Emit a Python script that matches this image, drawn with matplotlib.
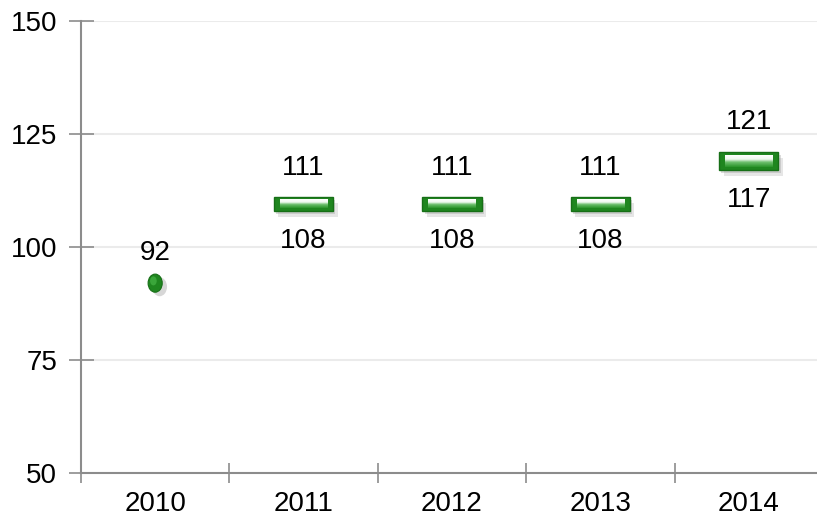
import matplotlib.pyplot as plt
import numpy as np
from matplotlib.patches import Ellipse
from matplotlib.colors import LinearSegmentedColormap


# values
years = ['2010', '2011', '2012', '2013', '2014']
low = [92, 108, 108, 108, 117]
high = [92, 111, 111, 111, 121]
y_ticks = [50, 75, 100, 125, 150]

plt.rcParams['font.family'] = ['Liberation Sans', 'DejaVu Sans']
plt.rcParams['font.size'] = 20

axis_grey = '#8c8c8c'
dark_green = '#176f17'
mid_green = '#1f861f'

bevel_cmap = LinearSegmentedColormap.from_list(
    'bevel', [(0.0, '#ffffff'), (0.35, '#eef8ee'), (0.6, '#6cbf6c'), (1.0, '#2a942a')])


def draw_bevel_bar(ax, x, lo, hi, width):
    # soft shadow, slightly offset down/right
    ax.bar(x + 0.03, hi - lo, width, bottom=lo - 1.3, color='#b8b8b8', alpha=0.35,
           linewidth=0, zorder=2)
    ax.bar(x + 0.015, hi - lo, width, bottom=lo - 0.7, color='#9a9a9a', alpha=0.35,
           linewidth=0, zorder=2)
    # outer green frame
    ax.bar(x, hi - lo, width, bottom=lo, color=mid_green, edgecolor=dark_green,
           linewidth=1.0, zorder=3)
    # inner highlight with gradient (white top -> green bottom)
    inset_x = width * 0.1
    inset_y = (hi - lo) * 0.18
    grad = np.linspace(0, 1, 50).reshape(-1, 1)
    ax.imshow(grad, cmap=bevel_cmap, aspect='auto', interpolation='bilinear',
              origin='upper',
              extent=(x - width / 2 + inset_x, x + width / 2 - inset_x,
                      lo + inset_y, hi - inset_y), zorder=4)


fig = plt.figure(figsize=(8.17, 5.28), dpi=100)
ax = fig.add_axes([0.0991, 0.1042, 0.9082, 0.856])

x = np.arange(len(years))
bar_width = 0.4

for i in range(len(years)):
    if low[i] == high[i]:
        # single value: green dot with a shadow
        sh = Ellipse((x[i] + 0.03, low[i] - 0.8), 0.1, 4.2, color='#a8a8a8',
                     alpha=0.45, linewidth=0, zorder=2)
        ax.add_patch(sh)
        dot = Ellipse((x[i], low[i]), 0.095, 4.0, facecolor=mid_green,
                      edgecolor=dark_green, linewidth=0.8, zorder=3)
        ax.add_patch(dot)
        hl = Ellipse((x[i] - 0.012, low[i] + 0.5), 0.045, 2.0, color='#3aa63a',
                     linewidth=0, zorder=4)
        ax.add_patch(hl)
        ax.annotate(str(high[i]), (x[i], high[i]), xytext=(0, 12),
                    textcoords='offset points', ha='center', va='bottom')
    else:
        draw_bevel_bar(ax, x[i], low[i], high[i], bar_width)
        ax.annotate(str(high[i]), (x[i], high[i]), xytext=(0, 12),
                    textcoords='offset points', ha='center', va='bottom')
        ax.annotate(str(low[i]), (x[i], low[i]), xytext=(0, -12),
                    textcoords='offset points', ha='center', va='top')

ax.set_xlim(-0.5, len(years) - 0.5)
ax.set_ylim(50, 150)
ax.set_yticks(y_ticks)
ax.set_yticklabels([str(v) for v in y_ticks])

# category ticks sit between the categories, labels centered under each
ax.set_xticks(np.arange(-0.5, len(years), 1))
ax.set_xticklabels([])
ax.set_xticks(x, minor=True)
ax.set_xticklabels(years, minor=True)
ax.tick_params(axis='x', which='minor', length=0, pad=13)
ax.tick_params(axis='x', which='major', direction='inout', length=14,
               color=axis_grey, width=1.2)
ax.tick_params(axis='y', direction='inout', length=18, color=axis_grey,
               width=1.2, pad=8)

ax.yaxis.grid(True, color='#ebebeb', linewidth=1.5, zorder=0)
ax.set_axisbelow(True)

for side in ['top', 'right']:
    ax.spines[side].set_visible(False)
for side in ['left', 'bottom']:
    ax.spines[side].set_color(axis_grey)
    ax.spines[side].set_linewidth(1.5)

fig.savefig('out.png', dpi=100)
